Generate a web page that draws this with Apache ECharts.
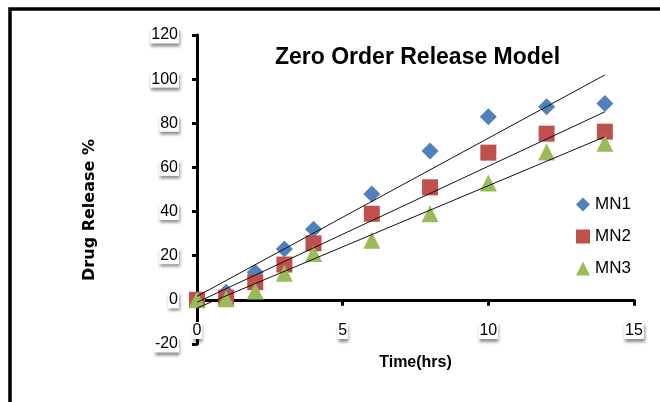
<!DOCTYPE html>
<html>
<head>
<meta charset="utf-8">
<script src="https://cdn.jsdelivr.net/npm/echarts@6/dist/echarts.min.js"></script>
<style>
html,body{margin:0;padding:0;background:#fff;}
#chart{width:660px;height:402px;}
</style>
</head>
<body>
<div id="chart"></div>
<script>
// Data
var timeHrs = [0, 1, 2, 3, 4, 6, 8, 10, 12, 14];
var mn1 = [0, 3.5, 12.5, 23, 32, 48, 67.5, 83, 87.5, 89];
var mn2 = [0, 1, 8, 16, 25.6, 39, 51, 66.7, 75.3, 76.2];
var mn3 = [0, 0.5, 4, 12, 21, 27, 39, 53, 67, 71];
// Linear trend lines (start at t=0, end at t=14)
var trendX = [0, 14];
var trend1 = [1.6, 101.9];
var trend2 = [-1.1, 85.2];
var trend3 = [-3.7, 73.9];
var seriesNames = ['MN1', 'MN2', 'MN3'];
var yTicks = [-20, 0, 20, 40, 60, 80, 100, 120];
var xTicks = [0, 5, 10, 15];

function pairs(xs, ys) { return xs.map(function (x, i) { return [x, ys[i]]; }); }

var labelBox = {
  backgroundColor: '#fff',
  shadowColor: 'rgba(0,0,0,0.45)',
  shadowBlur: 3,
  shadowOffsetX: 1,
  shadowOffsetY: 3,
  padding: [1, 1, 0, 1]
};

var chart = echarts.init(document.getElementById('chart'));
var option = {
  backgroundColor: '#fff',
  animation: false,
  title: {
    text: 'Zero Order Release Model',
    left: 270,
    top: 41,
    textStyle: { fontFamily: '"Liberation Sans", sans-serif', fontWeight: 'bold', fontSize: 23, color: '#000' }
  },
  legend: {
    data: seriesNames,
    orient: 'vertical',
    left: 571,
    top: 191,
    itemWidth: 14,
    itemHeight: 14,
    itemGap: 15,
    textStyle: { fontFamily: '"Liberation Sans", sans-serif', fontSize: 17, color: '#000' }
  },
  grid: { left: 197, right: 26, top: 35, bottom: 58, containLabel: false, outerBoundsMode: 'none' },
  xAxis: {
    type: 'value',
    min: xTicks[0],
    max: xTicks[xTicks.length - 1],
    interval: 5,
    name: 'Time(hrs)',
    nameLocation: 'middle',
    nameGap: 11,
    nameTextStyle: { fontFamily: '"Liberation Sans", sans-serif', fontWeight: 'bold', fontSize: 16, color: '#000' },
    axisLine: { onZero: true, lineStyle: { color: '#000', width: 3 } },
    axisTick: { show: true, length: 6, lineStyle: { color: '#000', width: 3 } },
    axisLabel: Object.assign({ margin: -22, fontFamily: '"Liberation Sans", sans-serif', fontSize: 16, color: '#000' }, labelBox),
    splitLine: { show: false }
  },
  yAxis: {
    type: 'value',
    min: yTicks[0],
    max: yTicks[yTicks.length - 1],
    interval: 20,
    axisLine: { onZero: false, lineStyle: { color: '#000', width: 3 } },
    axisTick: { show: true, length: 5, lineStyle: { color: '#000', width: 3 } },
    axisLabel: Object.assign({ margin: 18, fontFamily: '"Liberation Sans", sans-serif', fontSize: 16, color: '#000' }, labelBox),
    splitLine: { show: false }
  },
  graphic: [
    {
      type: 'rect', silent: true, z: 100,
      shape: { x: 10, y: 9, width: 720, height: 500 },
      style: { fill: 'none', stroke: '#000', lineWidth: 3.5 }
    },
    {
      type: 'text', x: 90, y: 210, rotation: Math.PI / 2, silent: true,
      style: { text: 'Drug Release %', fontFamily: '"DejaVu Sans", sans-serif', fontWeight: 'bold', fontSize: 16, fill: '#000', textAlign: 'center', textVerticalAlign: 'middle' }
    }
  ],
  series: [
    { name: 'MN1', type: 'scatter', symbol: 'diamond', symbolSize: 17, itemStyle: { color: '#4F81BD', opacity: 1 }, data: pairs(timeHrs, mn1), z: 2 },
    { name: 'MN2', type: 'scatter', symbol: 'rect', symbolSize: 16, itemStyle: { color: '#C0504D', opacity: 1 }, data: pairs(timeHrs, mn2), z: 3 },
    { name: 'MN3', type: 'scatter', symbol: 'triangle', symbolSize: 17, itemStyle: { color: '#9BBB59', opacity: 1 }, data: pairs(timeHrs, mn3), z: 4 },
    { name: 'MN1 trend', type: 'line', data: pairs(trendX, trend1), symbol: 'none', lineStyle: { color: '#111', width: 1 }, z: 5, silent: true },
    { name: 'MN2 trend', type: 'line', data: pairs(trendX, trend2), symbol: 'none', lineStyle: { color: '#111', width: 1 }, z: 5, silent: true },
    { name: 'MN3 trend', type: 'line', data: pairs(trendX, trend3), symbol: 'none', lineStyle: { color: '#111', width: 1 }, z: 5, silent: true }
  ]
};
chart.setOption(option);
</script>
</body>
</html>
